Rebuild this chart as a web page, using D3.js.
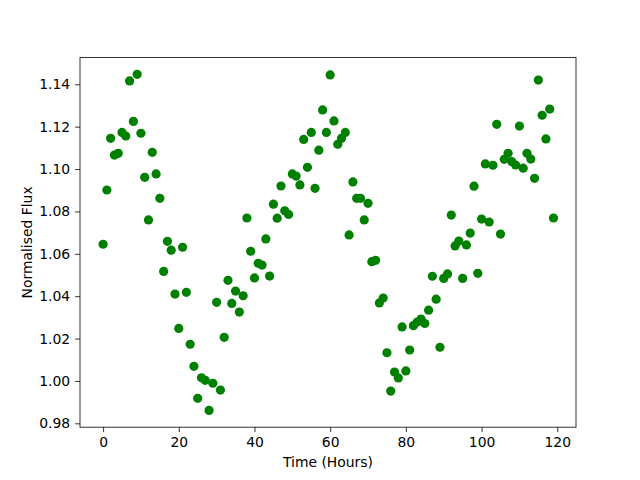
<!DOCTYPE html>
<html>
<head>
<meta charset="utf-8">
<title>Normalised Flux</title>
<script src="https://d3js.org/d3.v7.min.js"></script>
<style>
  body { margin: 0; background: #fff; }
  text { font-family: "DejaVu Sans", sans-serif; }
</style>
</head>
<body>
<svg id="chart"></svg>
<script>
// hours 0..119, one reading per hour
let hours = d3.range(0, 120);

let flux = [
  1.0645, 1.0901, 1.1145, 1.1066, 1.1074, 1.1173, 1.1156, 1.1416, 1.1225, 1.1447,
  1.1169, 1.0961, 1.0760, 1.1079, 1.0977, 1.0862, 1.0517, 1.0659, 1.0617, 1.0410,
  1.0248, 1.0631, 1.0418, 1.0173, 1.0069, 0.9918, 1.0015, 1.0003, 0.9861, 0.9989,
  1.0371, 0.9957, 1.0206, 1.0475, 1.0366, 1.0424, 1.0325, 1.0402, 1.0769, 1.0612,
  1.0486, 1.0555, 1.0547, 1.0670, 1.0495, 1.0834, 1.0768, 1.0920, 1.0803, 1.0786,
  1.0977, 1.0967, 1.0925, 1.1140, 1.1008, 1.1173, 1.0909, 1.1089, 1.1279, 1.1173,
  1.1444, 1.1227, 1.1117, 1.1145, 1.1173, 1.0689, 1.0939, 1.0862, 1.0862, 1.0760,
  1.0838, 1.0563, 1.0569, 1.0368, 1.0391, 1.0133, 0.9952, 1.0042, 1.0014, 1.0255,
  1.0047, 1.0146, 1.0261, 1.0278, 1.0292, 1.0271, 1.0334, 1.0494, 1.0386, 1.0159,
  1.0484, 1.0505, 1.0783, 1.0637, 1.0660, 1.0484, 1.0642, 1.0698, 1.0919, 1.0508,
  1.0764, 1.1024, 1.0750, 1.1018, 1.1211, 1.0693, 1.1046, 1.1074, 1.1035, 1.1019,
  1.1203, 1.1004, 1.1074, 1.1047, 1.0956, 1.1420, 1.1254, 1.1142, 1.1283, 1.0769
];

let xTicks = [0, 20, 40, 60, 80, 100, 120];
let yTicks = [0.98, 1.00, 1.02, 1.04, 1.06, 1.08, 1.10, 1.12, 1.14];

let width = 640, height = 480;
let margin = { top: 57.6, right: 64, bottom: 52.8, left: 80 };
let plotWidth = width - margin.left - margin.right;
let plotHeight = height - margin.top - margin.bottom;

let svg = d3.select('#chart')
  .attr('width', width)
  .attr('height', height);

let plot = svg.append('g')
  .attr('transform', translate(margin.left, margin.top));

let x = d3.scaleLinear()
  .domain([-6.1, 124.95])
  .range([0, plotWidth]);

let y = d3.scaleLinear()
  .domain([0.97816, 1.1526])
  .range([plotHeight, 0]);

// axes
let xAxis = plot.append('g')
  .attr('transform', translate(0, plotHeight))
  .call(d3.axisBottom(x).tickValues(xTicks).tickFormat(d3.format('d'))
    .tickSizeInner(4.9).tickSizeOuter(0).tickPadding(4.9));

let yAxis = plot.append('g')
  .call(d3.axisLeft(y).tickValues(yTicks).tickFormat(d3.format('.2f'))
    .tickSizeInner(4.9).tickSizeOuter(0).tickPadding(4.9));

[xAxis, yAxis].forEach(function(ax) {
  ax.select('.domain').remove();
  ax.selectAll('line').attr('stroke', '#000').attr('stroke-width', 0.8);
  ax.selectAll('text').attr('font-size', '13.9px').attr('fill', '#000')
    .attr('font-family', 'DejaVu Sans, sans-serif');
});

// frame
plot.append('rect')
  .attr('width', plotWidth)
  .attr('height', plotHeight)
  .attr('fill', 'none')
  .attr('stroke', '#000')
  .attr('stroke-width', 0.8);

// points
plot.append('g')
  .selectAll('circle')
  .data(hours)
  .join('circle')
  .attr('cx', d => x(d))
  .attr('cy', (d, i) => y(flux[i]))
  .attr('r', 4.6)
  .attr('fill', '#008000');

// labels
svg.append('text')
  .attr('x', margin.left + plotWidth / 2)
  .attr('y', 467)
  .attr('text-anchor', 'middle')
  .attr('font-size', '13.9px')
  .text('Time (Hours)');

svg.append('text')
  .attr('transform', translate(32, margin.top + plotHeight / 2) + ' rotate(-90)')
  .attr('text-anchor', 'middle')
  .attr('font-size', '13.9px')
  .text('Normalised Flux');

function translate(x, y) {
  return 'translate(' + x + ',' + y + ')';
}
</script>
</body>
</html>
